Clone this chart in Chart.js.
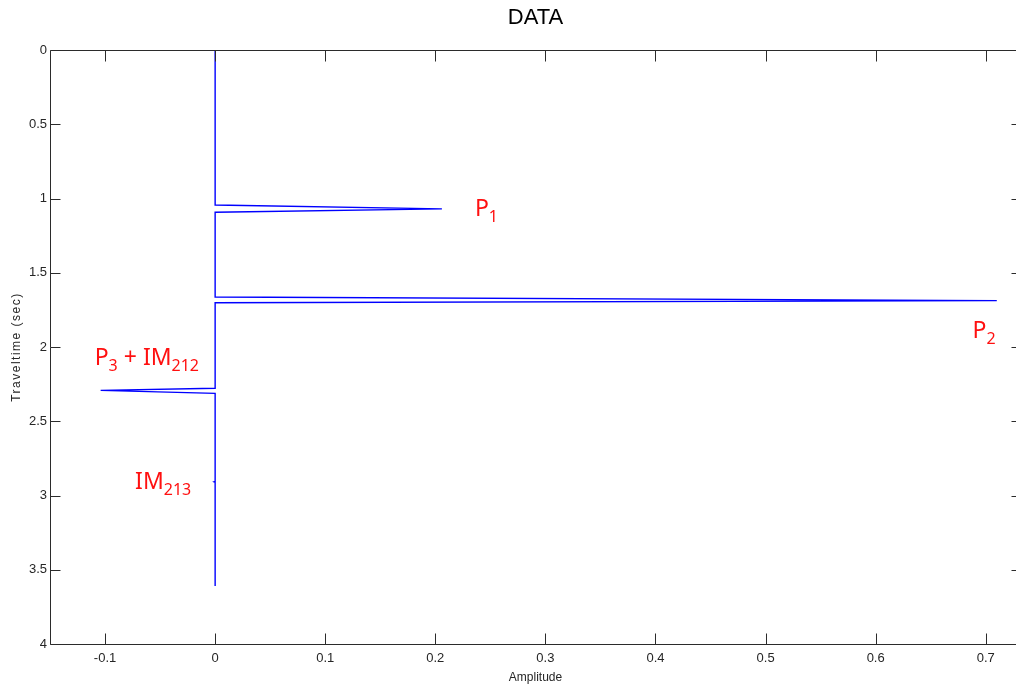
<!DOCTYPE html>
<html><head><meta charset="utf-8">
<script src="https://cdn.jsdelivr.net/npm/chart.js@4.4.1/dist/chart.umd.min.js"></script>
<style>
html,body{margin:0;padding:0;overflow:hidden;background:#fff;width:1016px;height:687px}
#wrap{width:1030px;height:687px}
</style></head>
<body><div id="wrap"><canvas id="c" width="1030" height="687"></canvas></div>
<script>
// ---- data ----
const amplitude  = [0, 0,     0.206, 0,     0,     0.710, 0,     0,     -0.104, 0,     0,     -0.001, 0,     0];
const traveltime = [0, 1.044, 1.070, 1.093, 1.663, 1.688, 1.702, 2.278, 2.292,  2.312, 2.905, 2.908,  2.911, 3.609];

const xTickValues = [-0.1, 0, 0.1, 0.2, 0.3, 0.4, 0.5, 0.6, 0.7];
const xTickLabels = ['-0.1', '0', '0.1', '0.2', '0.3', '0.4', '0.5', '0.6', '0.7'];
const yTickValues = [0, 0.5, 1, 1.5, 2, 2.5, 3, 3.5, 4];
const yTickLabels = ['0', '0.5', '1', '1.5', '2', '2.5', '3', '3.5', '4'];

const chartTitle = 'DATA';
const xTitle = 'Amplitude';
const yTitle = 'Traveltime (sec)';

// annotation labels: [text, isSubscript] pieces, anchored at data coords (left/baseline)
const annP1   = {x: 0.236,  y: 1.118, parts: [['P', 0], ['1', 1]]};
const annP2   = {x: 0.688,  y: 1.942, parts: [['P', 0], ['2', 1]]};
const annP3   = {x: -0.1094, y: 2.122, parts: [['P', 0], ['3', 1], [' + IM', 0], ['212', 1]]};
const annIM   = {x: -0.0727, y: 2.955, parts: [['IM', 0], ['213', 1]]};
const annotations = [annP1, annP2, annP3, annIM];

const points = amplitude.map((a, i) => ({x: a, y: traveltime[i]}));

const frameColor = '#2b2b2b';
const textColor = '#262626';

const framePlugin = {
  id: 'frame',
  afterDatasetsDraw(chart) {
    const {ctx, chartArea: a, scales: {x, y}} = chart;
    ctx.save();
    ctx.strokeStyle = frameColor;
    ctx.lineWidth = 1;
    const L = Math.round(a.left) + 0.5, R = Math.round(a.right) + 0.5;
    const T = Math.round(a.top) + 0.5, B = Math.round(a.bottom) + 0.5;
    ctx.beginPath();
    ctx.moveTo(L, T); ctx.lineTo(R, T); ctx.lineTo(R, B); ctx.lineTo(L, B); ctx.closePath();
    ctx.stroke();
    ctx.beginPath();
    x.ticks.forEach(t => {
      const px = Math.round(x.getPixelForValue(t.value)) + 0.5;
      ctx.moveTo(px, T); ctx.lineTo(px, T + 11);
      ctx.moveTo(px, B); ctx.lineTo(px, B - 11);
    });
    y.ticks.forEach(t => {
      const py = Math.round(y.getPixelForValue(t.value)) + 0.5;
      ctx.moveTo(L, py); ctx.lineTo(L + 10, py);
      ctx.moveTo(R, py); ctx.lineTo(R - 10, py);
    });
    ctx.stroke();

    // title
    ctx.fillStyle = '#000';
    ctx.font = '22px "Liberation Sans", Arial, sans-serif';
    ctx.textAlign = 'center';
    ctx.textBaseline = 'middle';
    ctx.fillText(chartTitle, (a.left + a.right) / 2, 18);

    // y axis title (letter-spaced, rotated)
    ctx.save();
    ctx.fillStyle = textColor;
    ctx.font = '12px "Liberation Sans", Arial, sans-serif';
    if ('letterSpacing' in ctx) ctx.letterSpacing = '1.5px';
    ctx.translate(17, (a.top + a.bottom) / 2);
    ctx.rotate(-Math.PI / 2);
    ctx.textAlign = 'center';
    ctx.textBaseline = 'middle';
    ctx.fillText(yTitle, 0, 0);
    ctx.restore();

    // annotations
    ctx.fillStyle = '#ff1010';
    ctx.textAlign = 'left';
    ctx.textBaseline = 'alphabetic';
    annotations.forEach(an => {
      let px = x.getPixelForValue(an.x);
      const py = y.getPixelForValue(an.y);
      an.parts.forEach(([txt, sub]) => {
        ctx.font = (sub ? '16px' : '23px') + ' "Noto Sans", "Open Sans", sans-serif';
        ctx.fillText(txt, px, sub ? py + 6 : py);
        px += ctx.measureText(txt).width;
      });
    });
    ctx.restore();
  }
};

new Chart(document.getElementById('c'), {
  type: 'scatter',
  data: {
    datasets: [{
      data: points,
      showLine: true,
      borderColor: '#0000ff',
      borderWidth: 1.4,
      pointRadius: 0,
      pointHoverRadius: 0,
      fill: false,
      tension: 0
    }]
  },
  options: {
    responsive: false,
    animation: false,
    devicePixelRatio: 1,
    layout: {padding: {left: 0, right: 9, top: 50, bottom: 0}},
    plugins: {legend: {display: false}, tooltip: {enabled: false}, title: {display: false}},
    scales: {
      x: {
        type: 'linear',
        position: 'bottom',
        min: -0.15,
        max: 0.732,
        grid: {display: false, drawTicks: false},
        border: {display: false},
        afterBuildTicks: s => { s.ticks = xTickValues.map(v => ({value: v})); },
        afterFit: s => { s.height = 43; },
        ticks: {
          padding: 7,
          color: textColor,
          font: {family: '"Liberation Sans", Arial, sans-serif', size: 13},
          maxRotation: 0,
          autoSkip: false,
          callback: (v, i) => xTickLabels[i]
        },
        title: {
          display: true, text: xTitle, color: textColor,
          font: {family: '"Liberation Sans", Arial, sans-serif', size: 12},
          padding: {top: 0, bottom: 2}
        }
      },
      y: {
        type: 'linear',
        reverse: true,
        min: 0,
        max: 4,
        grid: {display: false, drawTicks: false},
        border: {display: false},
        afterBuildTicks: s => { s.ticks = yTickValues.map(v => ({value: v})); },
        afterFit: s => { s.width = 50; },
        ticks: {
          padding: 3,
          color: textColor,
          font: {family: '"Liberation Sans", Arial, sans-serif', size: 13},
          autoSkip: false,
          callback: (v, i) => yTickLabels[i]
        },
        title: {display: false}
      }
    }
  },
  plugins: [framePlugin]
});
</script>
</body></html>
